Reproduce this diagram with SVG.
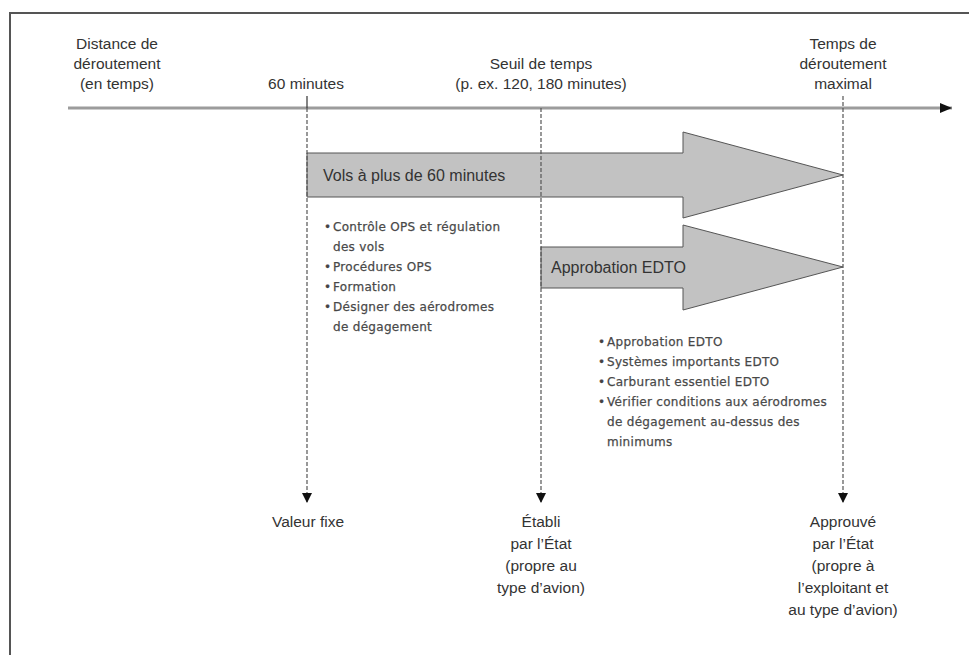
<svg xmlns="http://www.w3.org/2000/svg" width="969" height="655" viewBox="0 0 969 655">
<style>
.lbl{font-family:"Liberation Sans",Arial,sans-serif;font-size:15.5px;fill:#333;text-anchor:middle}
.albl{font-family:"Liberation Sans",Arial,sans-serif;font-size:16px;fill:#333}
.bul{font-family:"DejaVu Sans","Liberation Sans",sans-serif;font-size:12px;letter-spacing:0.3px;fill:#444;stroke:#555;stroke-width:0.25}
.dash{stroke:#555;stroke-width:1.2;stroke-dasharray:4 2;fill:none}
.big{fill:#c2c2c2;stroke:#555;stroke-width:1}
</style>
<defs>
<marker id="ah" viewBox="0 0 10 10" refX="10" refY="5" markerWidth="10" markerHeight="10" markerUnits="userSpaceOnUse" orient="auto">
<path d="M0,0 L10,5 L0,10 z" fill="#111"/>
</marker>
<marker id="ah2" viewBox="0 0 12 10" refX="12" refY="5" markerWidth="12" markerHeight="10" markerUnits="userSpaceOnUse" orient="auto">
<path d="M0,0 L12,5 L0,10 z" fill="#111"/>
</marker>
</defs>
<rect x="0" y="0" width="969" height="655" fill="#fff"/>
<rect x="10" y="13" width="1000" height="700" fill="none" stroke="#555" stroke-width="2"/>

<g id="axis">
<line x1="68" y1="108" x2="952" y2="108" stroke="#9c9c9c" stroke-width="3" marker-end="url(#ah2)"/>
</g>

<g id="labels-top">
<text class="lbl" x="117" y="49">Distance de</text>
<text class="lbl" x="117" y="69">déroutement</text>
<text class="lbl" x="117" y="89">(en temps)</text>
<text class="lbl" x="306" y="89">60 minutes</text>
<text class="lbl" x="541" y="69">Seuil de temps</text>
<text class="lbl" x="541" y="89">(p. ex. 120, 180 minutes)</text>
<text class="lbl" x="843" y="49">Temps de</text>
<text class="lbl" x="843" y="69">déroutement</text>
<text class="lbl" x="843" y="89">maximal</text>
</g>

<g id="arrow-vols">
<path class="big" d="M307,153 H683 V132 L843,175 L683,218 V197 H307 Z"/>
<text class="albl" x="323" y="181">Vols à plus de 60 minutes</text>
</g>

<g id="arrow-edto">
<path class="big" d="M541,247 H683 V225 L843,267 L683,310 V288 H541 Z"/>
<text class="albl" x="551" y="273">Approbation EDTO</text>
</g>

<g id="connectors">
<line x1="307" y1="96" x2="307" y2="108" stroke="#333" stroke-width="1.2"/>
<line class="dash" x1="307" y1="108" x2="307" y2="503" marker-end="url(#ah)"/>
<line class="dash" x1="541" y1="108" x2="541" y2="503" marker-end="url(#ah)"/>
<line class="dash" x1="843" y1="96" x2="843" y2="503" marker-end="url(#ah)" stroke="#777" stroke-dasharray="3 2"/>
</g>

<g id="list-60">
<text class="bul" x="324" y="231">•</text><text class="bul" x="333" y="231">Contrôle OPS et régulation</text>
<text class="bul" x="333" y="251">des vols</text>
<text class="bul" x="324" y="271">•</text><text class="bul" x="333" y="271">Procédures OPS</text>
<text class="bul" x="324" y="291">•</text><text class="bul" x="333" y="291">Formation</text>
<text class="bul" x="324" y="311">•</text><text class="bul" x="333" y="311">Désigner des aérodromes</text>
<text class="bul" x="333" y="331">de dégagement</text>
</g>

<g id="list-edto">
<text class="bul" x="598" y="346">•</text><text class="bul" x="607" y="346">Approbation EDTO</text>
<text class="bul" x="598" y="366">•</text><text class="bul" x="607" y="366">Systèmes importants EDTO</text>
<text class="bul" x="598" y="386">•</text><text class="bul" x="607" y="386">Carburant essentiel EDTO</text>
<text class="bul" x="598" y="406">•</text><text class="bul" x="607" y="406">Vérifier conditions aux aérodromes</text>
<text class="bul" x="607" y="426">de dégagement au-dessus des</text>
<text class="bul" x="607" y="446">minimums</text>
</g>

<g id="labels-bottom">
<text class="lbl" x="308" y="527">Valeur fixe</text>
<text class="lbl" x="541" y="527">Établi</text>
<text class="lbl" x="541" y="549">par l’État</text>
<text class="lbl" x="541" y="571">(propre au</text>
<text class="lbl" x="541" y="593">type d’avion)</text>
<text class="lbl" x="843" y="527">Approuvé</text>
<text class="lbl" x="843" y="549">par l’État</text>
<text class="lbl" x="843" y="571">(propre à</text>
<text class="lbl" x="843" y="593">l’exploitant et</text>
<text class="lbl" x="843" y="615">au type d’avion)</text>
</g>
</svg>
